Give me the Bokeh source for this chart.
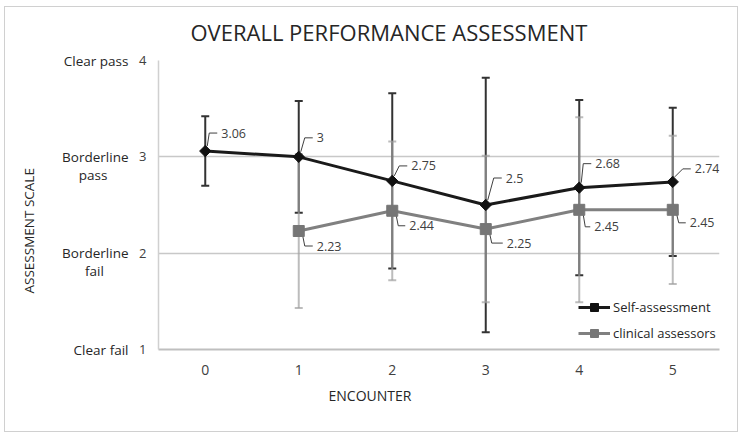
import numpy as np
from bokeh.plotting import figure
from bokeh.models import (ColumnDataSource, Whisker, TeeHead, LabelSet, Legend,
                          LegendItem, FixedTicker, LinearAxis, Title)
from bokeh.core.properties import value
from bokeh.embed import file_html
from bokeh.resources import INLINE

# ---------------- data ----------------
encounters = [0, 1, 2, 3, 4, 5]
self_mean = [3.06, 3.00, 2.75, 2.50, 2.68, 2.74]
self_err = [0.36, 0.58, 0.91, 1.32, 0.91, 0.77]

clin_enc = [1, 2, 3, 4, 5]
clin_mean = [2.23, 2.44, 2.25, 2.45, 2.45]
clin_err = [0.80, 0.72, 0.76, 0.96, 0.77]

y_ticks = [1, 2, 3, 4]
y_names = ["Clear fail", "Borderline\nfail", "Borderline\npass", "Clear pass"]

self_labels = ["3.06", "3", "2.75", "2.5", "2.68", "2.74"]
clin_labels = ["2.23", "2.44", "2.25", "2.45", "2.45"]

# ---------------- styling ----------------
FONT = "Open Sans"
TXT = "#262626"
NBSP = "\u00a0"
W, H = 734, 426
FL, FT, FW, FH = 153, 53, 561, 289
FR = W - FL - FW
FB = H - FT - FH
X0, X1 = -0.5, 5.5
Y0, Y1 = 1.0, 4.0
PPX = FW / (X1 - X0)
PPY = FH / (Y1 - Y0)

self_dx = [16, 18, 19, 20, 16, 22]
self_dy = [18, 19, 15, 27, 24, 13]
clin_dx = [18, 17, 21, 15, 17]
clin_dy = [-15, -15, -14, -17, -13]


def name_label(name):
    """First line on the tick, second line centred under it (right-aligned axis labels)."""
    lines = name.split("\n")
    if len(lines) == 1:
        return name
    pad = {"pass": 6, "fail": 7}.get(lines[1], 5)
    return "\n".join([NBSP, lines[0], lines[1] + NBSP * pad])


def spacer(size):
    return Title(text=" ", text_font_size="1px", standoff=size)


p = figure(width=W, height=H, x_range=(X0, X1), y_range=(Y0, Y1),
           title=None, output_backend="svg", toolbar_location=None,
           min_border_left=FL, min_border_right=FR,
           min_border_top=FT, min_border_bottom=FB)
p.margin = (6, 0, 0, 4)
p.styles = {"border": "1px solid #d0d0d0"}
p.outline_line_color = None

# title (a small spacer keeps it at the reference height)
p.add_layout(spacer(11), "above")
p.add_layout(Title(text="OVERALL PERFORMANCE ASSESSMENT", align="left", offset=32, standoff=0,
                   text_font=FONT, text_font_size="22px", text_font_style="normal",
                   text_color=TXT), "above")

# x axis
p.xaxis.ticker = FixedTicker(ticks=encounters)
p.xaxis.major_tick_line_color = None
p.xaxis.minor_tick_line_color = None
p.xaxis.axis_line_color = "#bfbfbf"
p.xaxis.axis_line_width = 2
p.xaxis.major_label_text_font = FONT
p.xaxis.major_label_text_font_size = "14px"
p.xaxis.major_label_text_color = "#404040"
p.xaxis.major_label_standoff = 9

# y axis (numbers)
p.yaxis.ticker = FixedTicker(ticks=y_ticks)
p.yaxis.major_tick_line_color = None
p.yaxis.minor_tick_line_color = None
p.yaxis.axis_line_color = "#d0d0d0"
p.yaxis.axis_line_width = 1.5
p.yaxis.major_label_text_font = FONT
p.yaxis.major_label_text_font_size = "13px"
p.yaxis.major_label_text_color = "#404040"
p.yaxis.major_label_standoff = 6

# y axis (scale names)
name_axis = LinearAxis(ticker=FixedTicker(ticks=y_ticks),
                       major_label_overrides={t: name_label(n) for t, n in zip(y_ticks, y_names)})
name_axis.axis_line_color = None
name_axis.major_tick_line_color = None
name_axis.minor_tick_line_color = None
name_axis.major_label_text_font = FONT
name_axis.major_label_text_font_size = "13.5px"
name_axis.major_label_text_line_height = 1.0
name_axis.major_label_text_color = TXT
name_axis.major_label_standoff = 2
p.add_layout(name_axis, "left")

p.add_layout(spacer(19), "left")
p.add_layout(Title(text="ASSESSMENT SCALE", align="left", offset=56, standoff=0,
                   text_font=FONT, text_font_size="13.5px", text_font_style="normal",
                   text_color=TXT), "left")
p.add_layout(Title(text="ENCOUNTER", align="left", offset=170, standoff=13,
                   text_font=FONT, text_font_size="14px", text_font_style="normal",
                   text_color=TXT), "below")

p.xgrid.visible = False
p.ygrid.ticker = FixedTicker(ticks=y_ticks[1:])
p.ygrid.grid_line_color = "#c8c8c8"
p.ygrid.grid_line_width = 1.5

# error bars
s_mean = np.array(self_mean)
s_err = np.array(self_err)
c_mean = np.array(clin_mean)
c_err = np.array(clin_err)

src_s = ColumnDataSource(dict(x=encounters, y=self_mean, lo=s_mean - s_err, hi=s_mean + s_err))
src_c = ColumnDataSource(dict(x=clin_enc, y=clin_mean, lo=c_mean - c_err, hi=c_mean + c_err))

DARK = "#333333"
LIGHT = "#a0a0a0"
ws = Whisker(source=src_s, base="x", lower="lo", upper="hi",
             line_color=DARK, line_width=2,
             upper_head=TeeHead(size=8, line_color=DARK, line_width=2),
             lower_head=TeeHead(size=8, line_color=DARK, line_width=2))
wc = Whisker(source=src_c, base="x", lower="lo", upper="hi",
             line_color=LIGHT, line_width=2, line_alpha=0.7,
             upper_head=TeeHead(size=8, line_color=LIGHT, line_width=2, line_alpha=0.7),
             lower_head=TeeHead(size=8, line_color=LIGHT, line_width=2, line_alpha=0.7))
p.add_layout(ws)
p.add_layout(wc)

# leader lines for data labels
def leaders(xs, ys, dxs, dys, down):
    lx, ly = [], []
    for x, y, dx, dy in zip(xs, ys, dxs, dys):
        if down:
            pts = [(4, -5), (6, dy), (dx - 4, dy)]
        else:
            pts = [(2, 5), (max(3, dx - 12), dy), (dx - 4, dy)]
        lx.append([x + a / PPX for a, b in pts])
        ly.append([y + b / PPY for a, b in pts])
    return lx, ly

lsx, lsy = leaders(encounters, self_mean, self_dx, self_dy, False)
lcx, lcy = leaders(clin_enc, clin_mean, clin_dx, clin_dy, True)
p.multi_line(lsx + lcx, lsy + lcy, line_color="#404040", line_width=1)

# series
r_cl = p.line(clin_enc, clin_mean, line_color="#808080", line_width=3)
r_cm = p.scatter(clin_enc, clin_mean, marker="square", size=11,
                 fill_color="#767676", line_color="#767676")
r_sl = p.line(encounters, self_mean, line_color="#1a1a1a", line_width=3)
r_sm = p.scatter(encounters, self_mean, marker="square", angle=np.pi / 4, size=8,
                 fill_color="#111111", line_color="#111111")

# data labels
lab_s = ColumnDataSource(dict(x=encounters, y=self_mean, t=self_labels,
                              xo=self_dx, yo=self_dy))
lab_c = ColumnDataSource(dict(x=clin_enc, y=clin_mean, t=clin_labels,
                              xo=clin_dx, yo=clin_dy))
for src in (lab_s, lab_c):
    p.add_layout(LabelSet(x="x", y="y", text="t", source=src, x_offset="xo", y_offset="yo",
                          text_font=value(FONT), text_font_size="12.5px",
                          text_color="#404040", text_align="left", text_baseline="middle"))

# legend
legend = Legend(items=[LegendItem(label="Self-assessment", renderers=[r_sl, r_sm]),
                       LegendItem(label="clinical assessors", renderers=[r_cl, r_cm])],
                location=(420, 6), padding=0, margin=0, spacing=6,
                glyph_width=32, glyph_height=20, label_standoff=3,
                border_line_color=None, background_fill_alpha=0,
                label_text_font=FONT, label_text_font_size="13px",
                label_text_color=TXT)
p.add_layout(legend)

open("out.html", "w").write(file_html(p, INLINE))
